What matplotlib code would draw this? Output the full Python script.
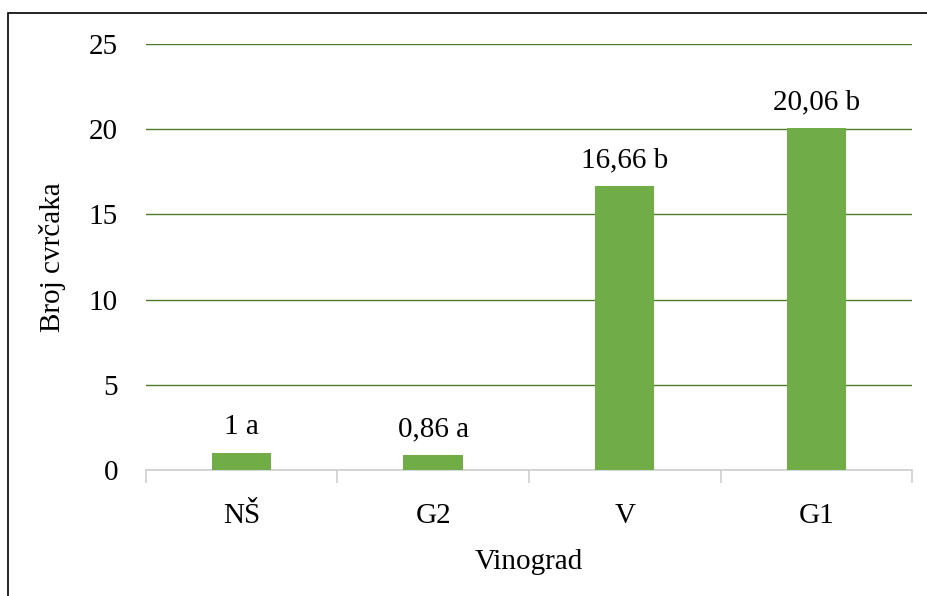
import matplotlib.pyplot as plt
from matplotlib.patches import Rectangle

plt.rcParams['font.family'] = ['Liberation Serif', 'DejaVu Serif']

categories = ['NŠ', 'G2', 'V', 'G1']
values = [1, 0.86, 16.66, 20.06]
labels = ['1 a', '0,86 a', '16,66 b', '20,06 b']
yticks = [0, 5, 10, 15, 20, 25]

fs = 21
fig = plt.figure(figsize=(9.28, 5.96), dpi=100)
ax = fig.add_axes([0.157, 0.2114, 0.826, 0.7148])

x = range(len(categories))
ax.bar(x, values, width=0.31, color='#70AD47', zorder=3)
for xi, v, lab in zip(x, values, labels):
    ax.annotate(lab, (xi, v), xytext=(0, 9), textcoords='offset points',
                ha='center', va='bottom', fontsize=fs)

ax.set_xlim(-0.5, len(categories) - 0.5)
ax.set_ylim(0, 25)
ax.set_yticks(yticks)
ax.yaxis.grid(True, color='#4E7A2A', linewidth=1.0, zorder=0)
ax.tick_params(axis='y', length=0, labelsize=fs, pad=20)

ax.set_xticks(list(x))
ax.set_xticklabels(categories)
ax.tick_params(axis='x', length=0, labelsize=fs, pad=24)
# category boundary ticks
ax.set_xticks([i - 0.5 for i in range(len(categories) + 1)], minor=True)
ax.tick_params(axis='x', which='minor', length=9, color='#D0D0D0', width=1.2)

for s in ['top', 'right', 'left']:
    ax.spines[s].set_visible(False)
ax.spines['bottom'].set_color('#D0D0D0')
ax.spines['bottom'].set_linewidth(1.2)

ax.set_xlabel('Vinograd', fontsize=fs, labelpad=14)
ax.set_ylabel('Broj cvrčaka', fontsize=fs, labelpad=16)

# chart frame
fig.patches.append(Rectangle((8 / 928, -0.1), 1.1, 1 - 13 / 596 + 0.1,
                             transform=fig.transFigure, fill=False,
                             edgecolor='black', linewidth=1.2))

fig.savefig('out.png', dpi=100)
